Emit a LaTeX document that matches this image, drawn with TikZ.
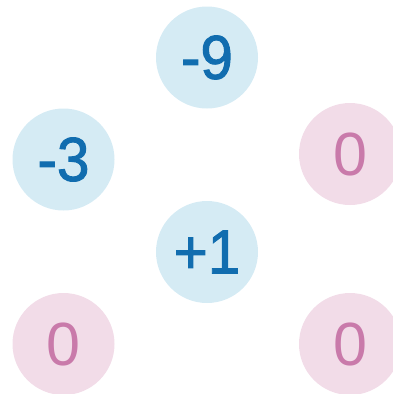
\documentclass[tikz,border=0pt]{standalone}
\usepackage{fontspec}
\setmainfont{Liberation Sans}
\newfontfamily\medfont[FakeBold=1.6,FakeStretch=0.94]{Liberation Sans}
\definecolor{bfill}{HTML}{D5EBF4}
\definecolor{btext}{HTML}{116DAF}
\definecolor{pfill}{HTML}{F2DCE8}
\definecolor{ptext}{HTML}{C97AAA}
\begin{document}
\begin{tikzpicture}[x=1pt,y=-1pt,
  ball/.style={circle,minimum size=102pt,inner sep=0pt},
  neg/.style={ball,fill=bfill,text=btext,font=\medfont\fontsize{62}{62}\selectfont},
  zer/.style={ball,fill=pfill,text=ptext,font=\fontsize{61}{61}\selectfont}]
\useasboundingbox (0,0) rectangle (393,394);
\clip (0,0) rectangle (393,394);
\node[neg] (a) at (207,57.5) {-9};
\node[neg] (b) at (63.5,159.5) {-3};
\node[zer] (c) at (350,154) {0};
\node[neg] (d) at (207,252) {+1};
\node[zer] (e) at (63.5,344) {0};
\node[zer] (f) at (350,344) {0};
\end{tikzpicture}
\end{document}
